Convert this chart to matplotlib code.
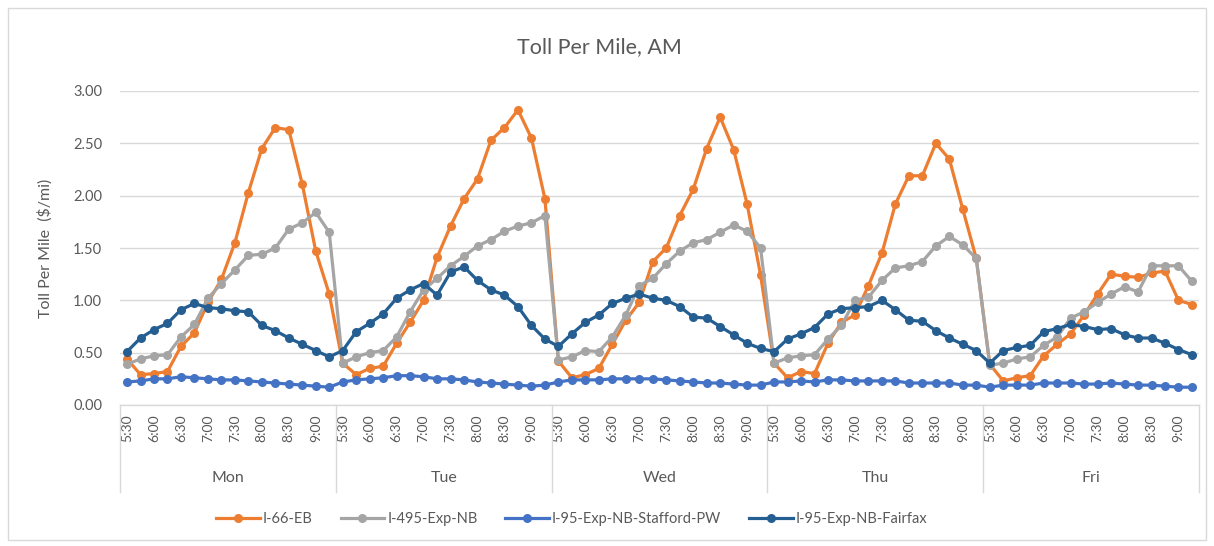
import matplotlib
matplotlib.use("Agg")
import matplotlib.pyplot as plt
from matplotlib.patches import Rectangle
from matplotlib.lines import Line2D
import matplotlib.transforms as mtransforms

plt.rcParams['font.family'] = ['Lato', 'DejaVu Sans']

days = ["Mon", "Tue", "Wed", "Thu", "Fri"]
times = ["5:30", "5:45", "6:00", "6:15", "6:30", "6:45", "7:00", "7:15",
         "7:30", "7:45", "8:00", "8:15", "8:30", "8:45", "9:00", "9:15"]
series_names = ["I-66-EB", "I-495-Exp-NB", "I-95-Exp-NB-Stafford-PW", "I-95-Exp-NB-Fairfax"]

i66_eb = [
    0.44, 0.29, 0.30, 0.32, 0.56, 0.69, 0.98, 1.20, 1.55, 2.03, 2.45, 2.65, 2.63, 2.11, 1.47, 1.06,  # Mon
    0.40, 0.29, 0.35, 0.37, 0.59, 0.79, 1.00, 1.41, 1.71, 1.97, 2.16, 2.53, 2.65, 2.82, 2.55, 1.97,  # Tue
    0.42, 0.26, 0.29, 0.35, 0.58, 0.81, 0.98, 1.37, 1.50, 1.81, 2.06, 2.45, 2.75, 2.44, 1.92, 1.24,  # Wed
    0.40, 0.26, 0.32, 0.30, 0.59, 0.79, 0.86, 1.14, 1.45, 1.92, 2.19, 2.19, 2.50, 2.35, 1.87, 1.40,  # Thu
    0.39, 0.23, 0.26, 0.28, 0.47, 0.58, 0.68, 0.86, 1.06, 1.25, 1.23, 1.22, 1.26, 1.28, 1.00, 0.96,  # Fri
]
i495_exp_nb = [
    0.39, 0.44, 0.47, 0.48, 0.65, 0.77, 1.02, 1.16, 1.29, 1.43, 1.44, 1.50, 1.68, 1.74, 1.84, 1.65,
    0.40, 0.46, 0.50, 0.52, 0.65, 0.89, 1.10, 1.21, 1.33, 1.42, 1.52, 1.58, 1.66, 1.71, 1.74, 1.81,
    0.43, 0.46, 0.52, 0.51, 0.65, 0.86, 1.14, 1.21, 1.35, 1.47, 1.55, 1.58, 1.65, 1.72, 1.66, 1.50,
    0.40, 0.45, 0.47, 0.48, 0.63, 0.76, 1.00, 1.03, 1.19, 1.31, 1.33, 1.37, 1.52, 1.61, 1.53, 1.40,
    0.38, 0.40, 0.44, 0.46, 0.57, 0.65, 0.83, 0.89, 0.98, 1.06, 1.13, 1.08, 1.33, 1.33, 1.33, 1.18,
]
i95_stafford = [
    0.22, 0.23, 0.25, 0.25, 0.27, 0.26, 0.25, 0.24, 0.24, 0.23, 0.22, 0.21, 0.20, 0.19, 0.18, 0.17,
    0.22, 0.24, 0.25, 0.26, 0.28, 0.28, 0.27, 0.25, 0.25, 0.24, 0.22, 0.21, 0.20, 0.19, 0.18, 0.19,
    0.22, 0.24, 0.24, 0.24, 0.25, 0.25, 0.25, 0.25, 0.24, 0.23, 0.22, 0.21, 0.21, 0.20, 0.19, 0.19,
    0.22, 0.22, 0.23, 0.22, 0.24, 0.24, 0.23, 0.23, 0.23, 0.23, 0.21, 0.21, 0.21, 0.21, 0.19, 0.19,
    0.17, 0.19, 0.19, 0.19, 0.21, 0.21, 0.21, 0.20, 0.20, 0.21, 0.20, 0.19, 0.19, 0.18, 0.17, 0.17,
]
i95_fairfax = [
    0.51, 0.64, 0.72, 0.78, 0.91, 0.97, 0.93, 0.92, 0.90, 0.89, 0.76, 0.71, 0.64, 0.58, 0.52, 0.46,
    0.52, 0.70, 0.78, 0.87, 1.02, 1.10, 1.16, 1.05, 1.27, 1.32, 1.19, 1.10, 1.05, 0.94, 0.76, 0.63,
    0.56, 0.68, 0.79, 0.86, 0.97, 1.02, 1.06, 1.02, 1.00, 0.94, 0.84, 0.83, 0.75, 0.67, 0.59, 0.54,
    0.51, 0.63, 0.68, 0.74, 0.87, 0.92, 0.93, 0.94, 1.00, 0.91, 0.81, 0.80, 0.71, 0.64, 0.58, 0.52,
    0.40, 0.52, 0.55, 0.57, 0.70, 0.73, 0.77, 0.75, 0.72, 0.73, 0.67, 0.64, 0.64, 0.59, 0.53, 0.48,
]
y_ticks = [0.0, 0.5, 1.0, 1.5, 2.0, 2.5, 3.0]

colors = ["#ED7D31", "#A5A5A5", "#4472C4", "#255E91"]
text_color = "#595959"
grid_color = "#D9D9D9"

W, H = 1214, 546
fig = plt.figure(figsize=(W / 100, H / 100), dpi=100)
fig.patches.append(Rectangle((8 / W, 6 / H), 1198 / W, 532 / H, transform=fig.transFigure,
                             fill=False, edgecolor=grid_color, linewidth=1.0))

left, right, top, bottom = 120.3, 1198.7, 91, 405
ax = fig.add_axes([left / W, 1 - bottom / H, (right - left) / W, (bottom - top) / H])

n_per_day = len(times)
x = list(range(len(days) * n_per_day))
all_series = [i66_eb, i495_exp_nb, i95_stafford, i95_fairfax]
for vals, name, c in zip(all_series, series_names, colors):
    ax.plot(x, vals, color=c, linewidth=2.3, marker='o', markersize=6.5,
            markeredgewidth=0, label=name, clip_on=False)

ax.set_xlim(-0.5, len(x) - 0.5)
ax.set_ylim(0, 3)
ax.set_yticks(y_ticks)
ax.set_yticklabels([f"{v:.2f}" for v in y_ticks])
ax.grid(axis='y', color=grid_color, linewidth=1.0)
ax.set_axisbelow(True)
for s in ["top", "right", "left"]:
    ax.spines[s].set_visible(False)
ax.spines["bottom"].set_color(grid_color)
ax.spines["bottom"].set_linewidth(1.0)
ax.tick_params(axis='y', length=0, pad=13, labelsize=10.5, labelcolor=text_color)

tick_pos = [d * n_per_day + j for d in range(len(days)) for j in range(0, n_per_day, 2)]
tick_lab = [times[j] for d in range(len(days)) for j in range(0, n_per_day, 2)]
ax.set_xticks(tick_pos)
ax.set_xticklabels(tick_lab, rotation=90)
ax.tick_params(axis='x', length=0, pad=7, labelsize=10, labelcolor=text_color)

trans = mtransforms.blended_transform_factory(ax.transData, ax.transAxes)
sep_depth = -(492 - bottom) / (bottom - top)
for d in range(len(days) + 1):
    xb = d * n_per_day - 0.5
    ax.plot([xb, xb], [0, sep_depth], transform=trans, color=grid_color,
            linewidth=1.0, clip_on=False)
day_y = -(478 - bottom) / (bottom - top)
for d, name in enumerate(days):
    ax.text(d * n_per_day + (n_per_day - 1) / 2, day_y, name, transform=trans,
            ha='center', va='center', fontsize=11.5, color=text_color)

ax.set_ylabel("Toll Per Mile  ($/mi)", fontsize=11.5, color=text_color)
ax.yaxis.set_label_coords((53 - left) / (right - left), 0.5)

fig.text(0.494, 1 - 47 / H, "Toll Per Mile, AM", ha='center', va='center',
         fontsize=15.5, color=text_color)

handles = [Line2D([0], [0], color=c, linewidth=2.3, marker='o', markersize=6.5,
                  markeredgewidth=0) for c in colors]
fig.legend(handles, series_names, loc='center', bbox_to_anchor=(0.471, 1 - 519 / H),
           ncol=4, frameon=False, fontsize=10.5, labelcolor=text_color,
           handlelength=3.0, handletextpad=0.2, columnspacing=1.9)

fig.savefig("out.png", dpi=100, facecolor='white')
